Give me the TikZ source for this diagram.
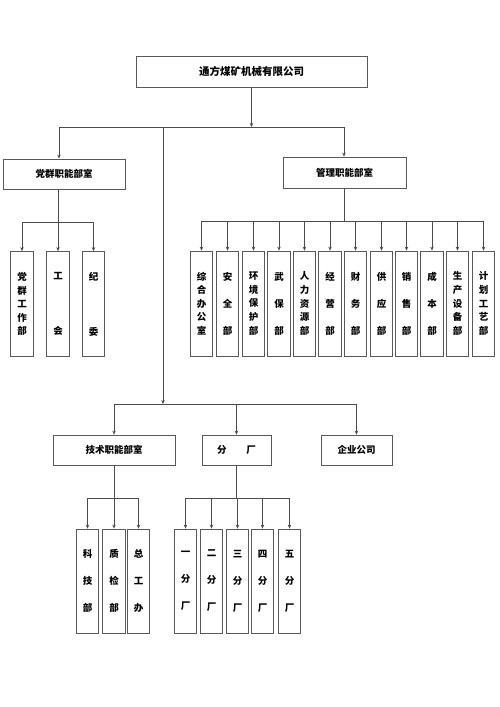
\documentclass[tikz,border=0pt]{standalone}
\usepackage{fontspec}
\setmainfont{Noto Sans CJK SC}
\usetikzlibrary{arrows.meta}
\tikzset{
  hbox/.style={draw=black!65, line width=0.8pt, inner sep=0pt, fill=white, font=\bfseries\fontsize{9.5}{11}\selectfont},
  vbox/.style={draw=black!65, line width=0.8pt, inner sep=0pt, fill=white, minimum width=22.7, minimum height=105, align=center},
  vfive/.style={font=\bfseries\fontsize{9.5}{13.6}\selectfont},
  vthree/.style={font=\bfseries\fontsize{9.5}{27}\selectfont},
  vtwo/.style={font=\bfseries\fontsize{9.5}{55}\selectfont},
  conn/.style={draw=black!70, line width=0.7pt},
  arr/.style={conn, -{Stealth[length=4pt,width=3.5pt]}}
}
\begin{document}
\begin{tikzpicture}[x=1pt,y=-1pt]
\useasboundingbox (0,0) rectangle (500,707);
\fill[white] (0,0) rectangle (500,707);
% top
\node[hbox, minimum width=231, minimum height=31, font=\bfseries\fontsize{10.5}{12}\selectfont] (top) at (251.5,71.5) {通方煤矿机械有限公司};
\node[hbox, minimum width=122, minimum height=30] (dq) at (64,174) {党群职能部室};
\node[hbox, minimum width=123, minimum height=31] (gl) at (344.5,172.5) {管理职能部室};
\coordinate (j1) at (251.5,127);
\coordinate (j1l) at (59,127);
\coordinate (j1r) at (344,127);
\coordinate (j1m) at (163,127);
\coordinate (j2) at (163,404);
\draw[arr] (top.south -| j1) -- (j1);
\draw[conn] (j1l) -- (j1r);
\draw[arr] (j1l) -- (j1l |- dq.north);
\draw[arr] (j1r) -- (j1r |- gl.north);
\draw[arr] (j1m) -- (j2);
% left group
\node[vbox, vfive] (l1) at (22,304) {党\\群\\工\\作\\部};
\node[vbox, vtwo] (l2) at (58,304) {工\\会};
\node[vbox, vtwo] (l3) at (93.5,304) {纪\\委};
\coordinate (jl) at (58,222);
\draw[conn] (dq.south -| jl) -- (jl);
\draw[conn] (l1.north |- jl) -- (l3.north |- jl);
\foreach \n in {l1,l2,l3} \draw[arr] (\n.north |- jl) -- (\n.north);
% right group
\coordinate (jr) at (344,221);
\draw[conn] (gl.south -| jr) -- (jr);
\foreach \i/\x/\t/\s in {
  1/201.5/{综\\合\\办\\公\\室}/vfive,
  2/227.5/{安\\全\\部}/vthree,
  3/253.5/{环\\境\\保\\护\\部}/vfive,
  4/279/{武\\保\\部}/vthree,
  5/304.5/{人\\力\\资\\源\\部}/vfive,
  6/330/{经\\营\\部}/vthree,
  7/355.5/{财\\务\\部}/vthree,
  8/381.5/{供\\应\\部}/vthree,
  9/406.5/{销\\售\\部}/vthree,
  10/432/{成\\本\\部}/vthree,
  11/457.5/{生\\产\\设\\备\\部}/vfive,
  12/483.5/{计\\划\\工\\艺\\部}/vfive}
{
  \node[vbox, \s, minimum height=105] (r\i) at (\x,303.5) {\t};
  \draw[arr] (r\i.north |- jr) -- (r\i.north);
}
\draw[conn] (r1.north |- jr) -- (r12.north |- jr);
% lower
\node[hbox, minimum width=122, minimum height=30] (js) at (114,450) {技术职能部室};
\node[hbox, minimum width=69, minimum height=30] (fc) at (236.5,450) {分\hspace{20pt}厂};
\node[hbox, minimum width=71, minimum height=30] (qy) at (356.5,450) {企业公司};
\draw[conn] (js.north |- j2) -- (qy.north |- j2);
\foreach \n in {js,fc,qy} \draw[arr] (\n.north |- j2) -- (\n.north);
% tech group
\coordinate (jt) at (114,498);
\node[vbox, vthree, minimum height=104] (t1) at (87.5,581) {科\\技\\部};
\node[vbox, vthree, minimum height=104] (t2) at (114,581) {质\\检\\部};
\node[vbox, vthree, minimum height=104] (t3) at (138.5,581) {总\\工\\办};
\draw[arr] (js.south) -- (t2.north);
\draw[conn] (t1.north |- jt) -- (t3.north |- jt);
\draw[arr] (t1.north |- jt) -- (t1.north);
\draw[arr] (t3.north |- jt) -- (t3.north);
% factories
\coordinate (jf) at (236.5,498);
\foreach \i/\x/\c in {1/185.5/一,2/211.5/二,3/237.5/三,4/262.5/四,5/289.5/五}
{
  \node[vbox, vthree, minimum height=104] (f\i) at (\x,581) {\c\\分\\厂};
}
\draw[conn] (fc.south) -- (fc.south |- jf);
\draw[conn] (f1.north |- jf) -- (f5.north |- jf);
\foreach \i in {1,2,4,5} \draw[arr] (f\i.north |- jf) -- (f\i.north);
\draw[arr] (f3.north |- jf) -- (f3.north);
\end{tikzpicture}
\end{document}
